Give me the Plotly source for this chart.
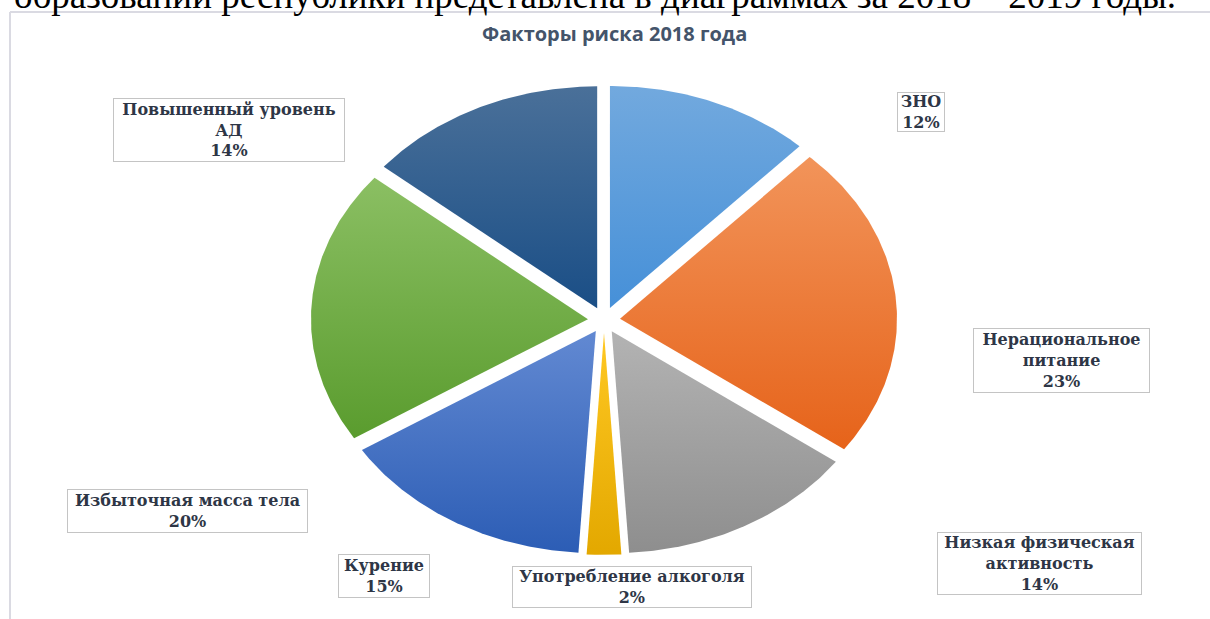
import numpy as np
import plotly.graph_objects as go

# ---- data -------------------------------------------------------------
heading_text = "образований республики представлена в диаграммах за 2018 – 2019 годы."
title_text = "Факторы риска 2018 года"

factors = [
    "ЗНО",
    "Нерациональное питание",
    "Низкая физическая активность",
    "Употребление алкоголя",
    "Курение",
    "Избыточная масса тела",
    "Повышенный уровень АД",
]
shares = [12, 23, 14, 2, 15, 20, 14]

# how each category name is broken into lines inside its label box
label_lines = [
    "ЗНО",
    "Нерациональное<br>питание",
    "Низкая физическая<br>активность",
    "Употребление алкоголя",
    "Курение",
    "Избыточная масса тела",
    "Повышенный уровень<br>АД",
]

# ---- styling ----------------------------------------------------------
top_colors = ["#72A9DE", "#F2945A", "#B3B3B3", "#FFC823", "#6289D2", "#8BBF63", "#4A7099"]
bottom_colors = ["#4690D8", "#E6631A", "#8E8E8E", "#E3A800", "#2C5DB5", "#5A9C2E", "#1A4E86"]

W, H = 1210, 619
CX, CY = 604, 320        # pie centre in px
RX, RY = 277, 222        # pie radii in px (chart is stretched horizontally)
EXPLODE = 0.058          # slice offset, fraction of radius

# label boxes: centre x, centre y, width, height (px)
label_boxes = [
    (921, 112, 48, 40),
    (1061, 360, 177, 65),
    (1039, 563, 205, 63),
    (632, 587, 240, 42),
    (384, 576, 92, 44),
    (187, 511, 241, 44),
    (229, 130, 232, 64),
]

LABEL_FONT = dict(family="DejaVu Serif", size=16, color="#2E3646", weight="bold")

fig = go.Figure()

# ---- exploded pie built from the shares ---------------------------------
total = float(sum(shares))
start = 0.0
for name, v, c_top, c_bot in zip(factors, shares, top_colors, bottom_colors):
    span = v / total * 2 * np.pi
    end = start + span
    mid = (start + end) / 2
    ox, oy = EXPLODE * np.sin(mid), EXPLODE * np.cos(mid)
    t = np.linspace(start, end, max(4, int(np.degrees(span) * 2)))
    xs = np.concatenate([[ox], ox + np.sin(t), [ox]])
    ys = np.concatenate([[oy], oy + np.cos(t), [oy]])
    fig.add_trace(go.Scatter(
        x=xs, y=ys, mode="lines", fill="toself",
        fillgradient=dict(type="vertical", colorscale=[[0, c_bot], [1, c_top]]),
        line=dict(width=0), name=name, hoverinfo="name", showlegend=False,
    ))
    start = end

# ---- value labels -----------------------------------------------------
for text, v, (bx, by, bw, bh) in zip(label_lines, shares, label_boxes):
    fig.add_annotation(
        x=bx / W, y=1 - by / H, xref="paper", yref="paper",
        text=f"{text}<br>{v}%", showarrow=False,
        xanchor="center", yanchor="middle", align="center", valign="middle",
        width=bw - 2, height=bh - 2, borderpad=0, borderwidth=1,
        bordercolor="#C4C4C4", bgcolor="white", font=LABEL_FONT,
    )

# chart title
fig.add_annotation(
    x=614 / W, y=1 - 34 / H, xref="paper", yref="paper", text=title_text,
    showarrow=False, xanchor="center", yanchor="middle",
    font=dict(family="Open Sans", size=20, color="#44546A", weight="bold"),
)

# running text of the page above the chart
fig.add_annotation(
    x=595 / W, y=1 + 4 / H, xref="paper", yref="paper", text=heading_text,
    showarrow=False, xanchor="center", yanchor="middle",
    font=dict(family="Liberation Serif", size=37, color="black"),
)

# chart frame (left and top edges)
for x0, y0, x1, y1 in [(10, 12, W + 5, 12), (10, 12, 10, H + 5)]:
    fig.add_shape(type="line", xref="paper", yref="paper",
                  x0=x0 / W, y0=1 - y0 / H, x1=x1 / W, y1=1 - y1 / H,
                  line=dict(color="#DADAE2", width=2))

fig.update_layout(
    width=W, height=H, margin=dict(l=0, r=0, t=0, b=0),
    paper_bgcolor="white", plot_bgcolor="white",
    xaxis=dict(range=[-CX / RX, (W - CX) / RX], visible=False, fixedrange=True),
    yaxis=dict(range=[-(H - CY) / RY, CY / RY], visible=False, fixedrange=True),
    showlegend=False,
)

fig.write_html("out.html")
